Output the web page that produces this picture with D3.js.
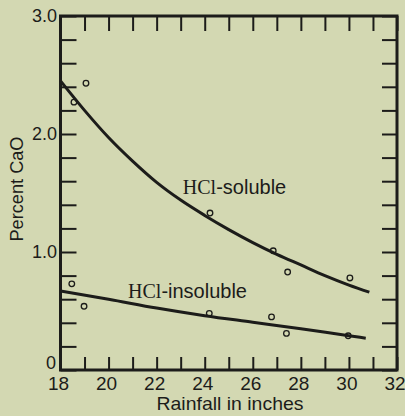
<!DOCTYPE html>
<html><head><meta charset="utf-8">
<script src="https://cdn.jsdelivr.net/npm/d3@7"></script>
<style>
html,body{margin:0;padding:0;background:#d3d8b2;}
svg{display:block;}
</style></head>
<body>
<svg id="chart" width="405" height="416"></svg>
<script>
// ---- data ----
const xTickValues = [18, 19, 20, 21, 22, 23, 24, 25, 26, 27, 28, 29, 30, 31, 32];
const xTickLabels = [18, 20, 22, 24, 26, 28, 30, 32];
const yTickValues = [0, 0.2, 0.4, 0.6, 0.8, 1.0, 1.2, 1.4, 1.6, 1.8, 2.0, 2.2, 2.4, 2.6, 2.8, 3.0];
const yTickLabels = [0, 1.0, 2.0, 3.0];

const solubleX = [18.56, 19.06, 24.22, 26.85, 27.45, 30.04];
const solubleY = [2.27, 2.43, 1.33, 1.01, 0.83, 0.78];
const insolubleX = [18.47, 18.98, 24.19, 26.78, 27.40, 29.97];
const insolubleY = [0.73, 0.54, 0.48, 0.45, 0.31, 0.29];

const solubleCurveX = [18, 19, 20, 21, 22, 23, 24, 25, 26, 27, 28, 29, 30, 30.85];
const solubleCurveY = [2.45, 2.20, 1.97, 1.77, 1.59, 1.44, 1.31, 1.19, 1.08, 0.98, 0.89, 0.80, 0.72, 0.66];
const insolubleCurveX = [18, 20, 22, 24, 26, 28, 30, 30.7];
const insolubleCurveY = [0.67, 0.60, 0.525, 0.46, 0.405, 0.35, 0.29, 0.27];

const labelNames = ["-soluble", "-insoluble"];
const labelX = [23.09, 20.81];
const labelY = [1.494, 0.611];

// ---- layout ----
const svg = d3.select("#chart");
const x = d3.scaleLinear().domain([18, 32]).range([60.5, 397]);
const y = d3.scaleLinear().domain([0, 3]).range([370, 16]);
const ink = "#1c1c1a";
const sans = "'Liberation Sans', Arial, sans-serif";
const serif = "'Liberation Serif', 'DejaVu Serif', serif";

// ticks (inside, all four sides)
const axB = d3.axisBottom(x).tickValues(xTickValues).tickSize(-13).tickFormat("");
const axT = d3.axisTop(x).tickValues(xTickValues).tickSize(-15).tickFormat("");
const axL = d3.axisLeft(y).tickValues(yTickValues).tickSize(-16).tickFormat("");
const axR = d3.axisRight(y).tickValues(yTickValues).tickSize(-15).tickFormat("");
[[axB, `translate(0,${y(0)})`], [axT, `translate(0,${y(3)})`],
 [axL, `translate(${x(18)},0)`], [axR, `translate(${x(32)},0)`]].forEach(([ax, tr]) => {
  const g = svg.append("g").attr("transform", tr).call(ax);
  g.select(".domain").remove();
  g.selectAll(".tick line").attr("stroke", ink).attr("stroke-width", 2);
});

// frame
svg.append("rect")
  .attr("x", x(18)).attr("y", y(3))
  .attr("width", x(32) - x(18)).attr("height", y(0) - y(3))
  .attr("fill", "none").attr("stroke", ink).attr("stroke-width", 3);

// tick labels
svg.append("g").selectAll("text").data(xTickLabels).join("text")
  .attr("x", d => x(d) - 2).attr("y", 390)
  .attr("text-anchor", "middle")
  .attr("font-family", sans).attr("font-size", 19).attr("fill", ink)
  .text(d => d);

svg.append("g").selectAll("text").data(yTickLabels).join("text")
  .attr("x", d => d === 0 ? 56 : 57).attr("y", d => d === 0 ? y(d) - 7.5 : y(d))
  .attr("dy", "0.36em")
  .attr("text-anchor", "end")
  .attr("font-family", sans).attr("font-size", 18).attr("fill", ink)
  .text(d => d === 0 ? "0" : d3.format(".1f")(d));

// axis titles
svg.append("text")
  .attr("x", 230).attr("y", 410).attr("text-anchor", "middle")
  .attr("font-family", sans).attr("font-size", 19).attr("fill", ink)
  .attr("textLength", 147).attr("lengthAdjust", "spacingAndGlyphs")
  .text("Rainfall in inches");

svg.append("text")
  .attr("transform", "translate(23,189) rotate(-90)").attr("text-anchor", "middle")
  .attr("font-family", sans).attr("font-size", 19).attr("fill", ink)
  .attr("textLength", 105).attr("lengthAdjust", "spacingAndGlyphs")
  .text("Percent CaO");

// curves
const line = d3.line().x(d => x(d[0])).y(d => y(d[1])).curve(d3.curveMonotoneX);
[[solubleCurveX, solubleCurveY], [insolubleCurveX, insolubleCurveY]].forEach(([xs, ys]) => {
  svg.append("path").datum(xs.map((v, i) => [v, ys[i]]))
    .attr("d", line).attr("fill", "none")
    .attr("stroke", ink).attr("stroke-width", 3).attr("stroke-linecap", "butt");
});

// points
[[solubleX, solubleY], [insolubleX, insolubleY]].forEach(([xs, ys]) => {
  svg.append("g").selectAll("circle").data(xs.map((v, i) => [v, ys[i]])).join("circle")
    .attr("cx", d => x(d[0])).attr("cy", d => y(d[1])).attr("r", 2.8)
    .attr("fill", "none").attr("stroke", ink).attr("stroke-width", 1.3);
});

// curve labels
labelNames.forEach((name, i) => {
  const t = svg.append("text")
    .attr("x", x(labelX[i])).attr("y", y(labelY[i]))
    .attr("fill", ink);
  t.append("tspan").attr("font-family", serif).attr("font-size", 20).text("HCl");
  t.append("tspan").attr("font-family", sans).attr("font-size", 20).text(name);
});
</script>
</body></html>
